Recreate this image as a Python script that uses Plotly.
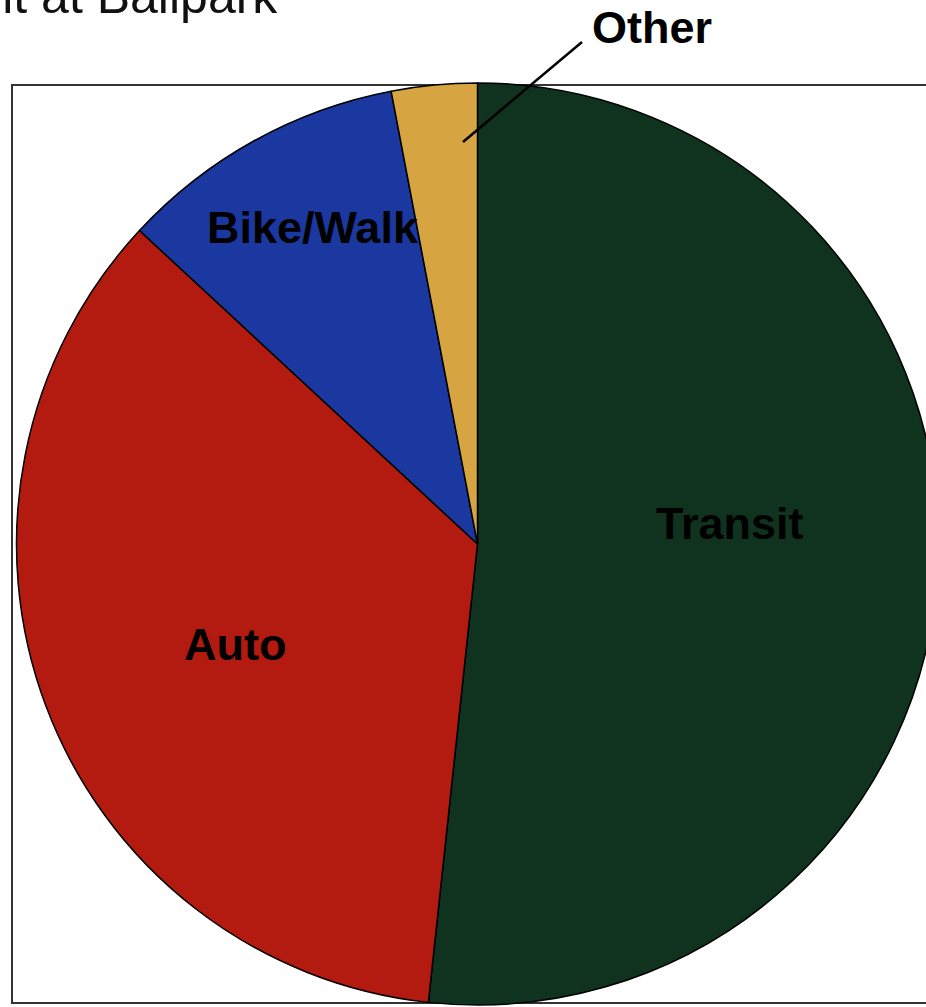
import plotly.graph_objects as go

# ---- data ----
modes = ["Transit", "Auto", "Bike/Walk", "Other"]
shares = [51.7, 35.2, 10.1, 3.0]
colors = ["#0f331e", "#b31a10", "#1b38a0", "#d6a542"]
title_text = "Mode Split at Ballpark"

W, H = 940, 1007

def px(x):
    return x / W

def py(y):
    return 1 - y / H

fig = go.Figure()
fig.add_trace(go.Pie(
    labels=modes,
    values=shares,
    sort=False,
    direction="clockwise",
    rotation=0,
    marker=dict(colors=colors, line=dict(color="#000000", width=1.5)),
    textinfo="none",
    hoverinfo="label+percent",
    showlegend=False,
    domain=dict(x=[px(16), px(939)], y=[py(1005), py(83)]),
))

label_font = dict(family="Arial, Liberation Sans, sans-serif", size=45, color="#000000")
label_pos = {
    "Transit": (730, 523),
    "Auto": (235, 644),
    "Bike/Walk": (313, 228),
    "Other": (652, 28),
}
annotations = []
for m in modes:
    x, y = label_pos[m]
    annotations.append(dict(
        text="<b>%s</b>" % m, x=px(x), y=py(y), xref="paper", yref="paper",
        xanchor="center", yanchor="middle", showarrow=False, font=label_font,
    ))
annotations.append(dict(
    text=title_text, x=px(280), y=py(-4), xref="paper", yref="paper",
    xanchor="right", yanchor="middle", showarrow=False,
    font=dict(family="Arial, Liberation Sans, sans-serif", size=50, color="#111111"),
))

shapes = [
    dict(type="rect", xref="paper", yref="paper", x0=px(12), x1=1.05, y0=py(1003), y1=py(85),
         line=dict(color="#333333", width=2), fillcolor="rgba(0,0,0,0)", layer="below"),
    dict(type="line", xref="paper", yref="paper", x0=px(582), y0=py(42), x1=px(463), y1=py(142),
         line=dict(color="#000000", width=2.5), layer="above"),
]

fig.update_layout(
    width=W, height=H, autosize=False,
    margin=dict(l=0, r=0, t=0, b=0),
    paper_bgcolor="#ffffff", plot_bgcolor="#ffffff",
    annotations=annotations, shapes=shapes,
)

fig.write_html(
    "out.html",
    config={"displayModeBar": False},
    post_script="document.body.style.margin='0';document.body.style.overflow='hidden';document.documentElement.style.overflow='hidden';",
)
